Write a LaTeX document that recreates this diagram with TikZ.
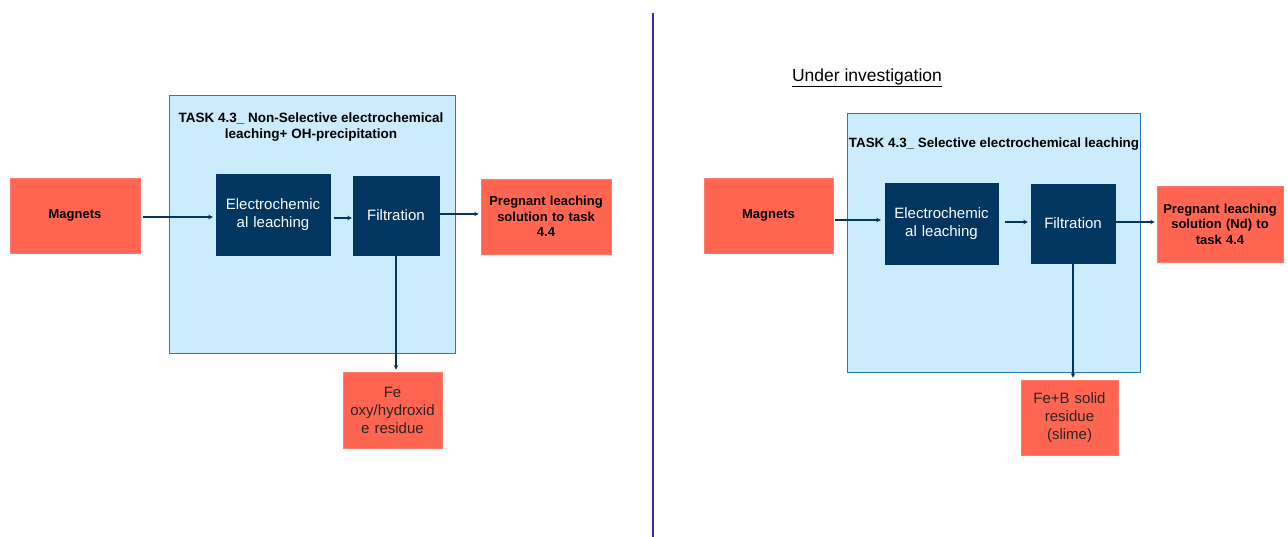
\documentclass[tikz,border=0pt]{standalone}
\usepackage{fontspec}
\setmainfont{Liberation Sans}
\usetikzlibrary{arrows.meta}
\definecolor{orangebox}{RGB}{255,101,80}
\definecolor{navybox}{RGB}{0,54,96}
\definecolor{taskfill}{RGB}{204,235,252}
\definecolor{taskline}{RGB}{40,120,190}
\definecolor{divider}{RGB}{58,48,150}
\tikzset{
  x=1pt, y=-1pt,
  feed/.style={fill=orangebox, draw=orangebox!85!white, line width=0.6pt, inner sep=2pt, align=center,
    font=\fontsize{13}{15.5}\selectfont\bfseries, text=black},
  residue/.style={fill=orangebox, draw=orangebox!85!white, line width=0.6pt, inner sep=2pt, align=center,
    font=\fontsize{15}{18}\selectfont, text=black!85},
  unit/.style={fill=navybox, draw=navybox, inner sep=2pt, align=center,
    font=\fontsize{15}{18}\selectfont, text=white},
  taskbox/.style={fill=taskfill, draw=taskline, line width=1.2pt},
  flow/.style={draw=navybox, line width=1.4pt, -{Stealth[length=4.5pt,width=4.5pt]}},
}
% rectangle node centred at (x,y) with width, height and text width
\newcommand{\boxat}[7]{%
  \node[#1, anchor=center, minimum width=#4pt, minimum height=#5pt, text width=#6pt]
    (#2) at ({#3}) {#7};}
\begin{document}
\begin{tikzpicture}
\useasboundingbox (0,0) rectangle (1288,537);

% divider between the two variants
\coordinate (divtop) at (653,13);
\coordinate (divbot) at (653,537);
\draw[divider, line width=1.6pt] (divtop) -- (divbot);

% ---------- non-selective route ----------
\node[taskbox, minimum width=286pt, minimum height=258pt, anchor=north west, inner sep=0pt] (task1) at (169,95) {};
\node[font=\fontsize{13.5}{16}\selectfont\bfseries, align=center] (title1) at (311,127)
  {TASK 4.3\_ Non-Selective electrochemical\\leaching+ OH-precipitation};

\boxat{feed}{mag1}{75,215.5}{130}{75}{120}{Magnets}
\boxat{unit}{ele1}{273,214.5}{114}{81}{105}{Electrochemic\\al leaching}
\boxat{unit}{fil1}{396,215.5}{86}{79}{80}{Filtration}
\boxat{feed}{preg1}{546,216.5}{130}{75}{124}{Pregnant leaching\\solution to task\\4.4}
\boxat{residue}{fe1}{392.5,410}{99}{76}{95}{Fe\\oxy/hydroxid\\e residue}

\coordinate (m1o) at ([xshift=3pt,yshift=-1.5pt]mag1.east);
\coordinate (e1o) at ([xshift=4pt,yshift=-3.5pt]ele1.east);
\coordinate (f1o) at ([yshift=1.5pt]fil1.east);
\draw[flow] (m1o) -- ([xshift=-3pt]m1o -| ele1.west);
\draw[flow] (e1o) -- ([xshift=-1pt]e1o -| fil1.west);
\draw[flow] (f1o) -- ([xshift=-2pt]f1o -| preg1.west);
\draw[flow] (fil1.south) -- ([yshift=2pt]fil1.south |- fe1.north);

% ---------- selective route ----------
\node[font=\fontsize{17.5}{20}\selectfont, inner sep=1pt] (note) at (867,78) {\underline{Under investigation}};

\node[taskbox, minimum width=293pt, minimum height=259pt, anchor=north west, inner sep=0pt] (task2) at (847,113) {};
\node[font=\fontsize{13.4}{16}\selectfont\bfseries] (title2) at (994,144)
  {TASK 4.3\_ Selective electrochemical leaching};

\boxat{feed}{mag2}{768.5,215.5}{129}{75}{120}{Magnets}
\boxat{unit}{ele2}{941.5,223.5}{113}{81}{105}{Electrochemic\\al leaching}
\boxat{unit}{fil2}{1073,223.5}{84}{79}{80}{Filtration}
\boxat{feed}{preg2}{1220,224}{126}{76}{122}{Pregnant leaching\\solution (Nd) to\\task 4.4}
\boxat{residue}{fe2}{1069.5,417.5}{97}{75}{93}{Fe+B solid\\residue\\(slime)}

\coordinate (m2o) at ([xshift=2pt,yshift=-4.5pt]mag2.east);
\coordinate (e2o) at ([xshift=7pt,yshift=1.5pt]ele2.east);
\coordinate (f2o) at ([yshift=1.5pt]fil2.east);
\draw[flow] (m2o) -- ([xshift=-4pt]m2o -| ele2.west);
\draw[flow] (e2o) -- ([xshift=-3pt]e2o -| fil2.west);
\draw[flow] (f2o) -- ([xshift=-2pt]f2o -| preg2.west);
\draw[flow] (fil2.south) -- ([yshift=2pt]fil2.south |- fe2.north);
\end{tikzpicture}
\end{document}
